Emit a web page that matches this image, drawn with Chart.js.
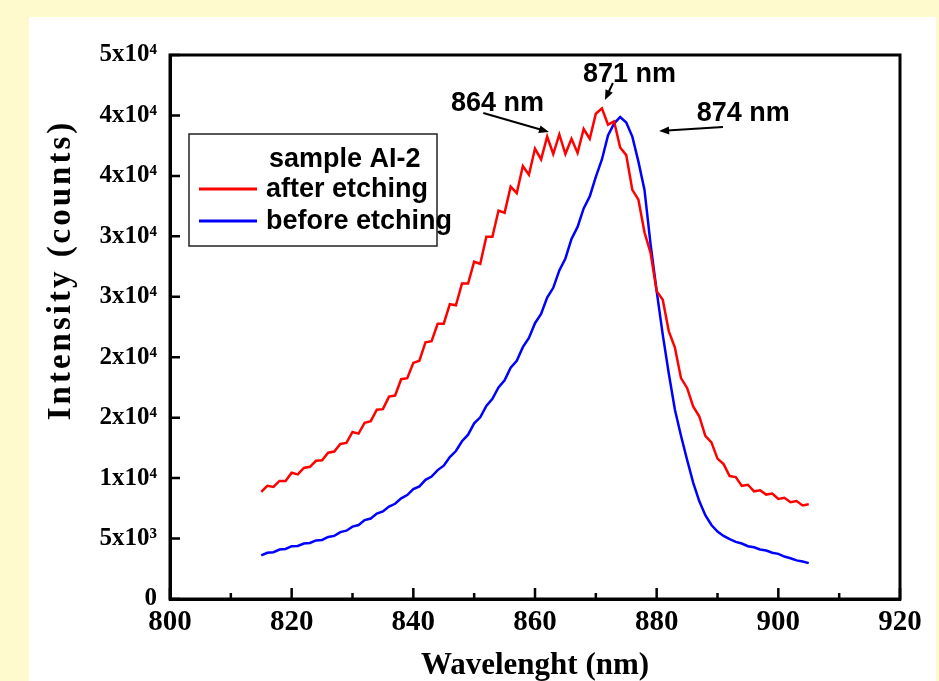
<!DOCTYPE html>
<html>
<head>
<meta charset="utf-8">
<script src="https://cdn.jsdelivr.net/npm/chart.js@4.4.0/dist/chart.umd.min.js"></script>
<style>
  html, body { margin: 0; padding: 0; background: #FFFACD; }
  body { width: 939px; height: 681px; position: relative; overflow: hidden; }
  #hoja { position: absolute; left: 29px; top: 17px; width: 907px; height: 664px; background: #fff; }
  #grafico { position: absolute; left: 0; top: 0; }
</style>
</head>
<body>
<div id="hoja"></div>
<canvas id="grafico" width="939" height="681"></canvas>
<script>
// ───────────────────────── datos
const longitudes = [
  815, 816, 817, 818, 819, 820, 821, 822, 823, 824,
  825, 826, 827, 828, 829, 830, 831, 832, 833, 834,
  835, 836, 837, 838, 839, 840, 841, 842, 843, 844,
  845, 846, 847, 848, 849, 850, 851, 852, 853, 854,
  855, 856, 857, 858, 859, 860, 861, 862, 863, 864,
  865, 866, 867, 868, 869, 870, 871, 872, 873, 874,
  875, 876, 877, 878, 879, 880, 881, 882, 883, 884,
  885, 886, 887, 888, 889, 890, 891, 892, 893, 894,
  895, 896, 897, 898, 899, 900, 901, 902, 903, 904,
  905
];

// after etching (rojo)
const despues = [
  9850, 10400, 10300, 10850, 10850, 11600, 11450, 12050, 12150, 12700,
  12750, 13450, 13550, 14250, 14350, 15350, 15200, 16200, 16350, 17400,
  17450, 18600, 18700, 20200, 20300, 21700, 21900, 23600, 23700, 25300,
  25300, 27100, 27000, 29000, 29000, 31000, 30800, 33300, 33300, 35700,
  35500, 37900, 37300, 39800, 39000, 41400, 40400, 42500, 40900, 42700,
  40900, 42300, 41000, 43200, 42300, 44600, 45100, 43600, 43900, 41500,
  40800, 37600, 36700, 33700, 31800, 28300, 27500, 24600, 23100, 20300,
  19400, 17700, 16800, 15000, 14400, 12900, 12400, 11300, 11200, 10400,
  10500, 9900, 10000, 9600, 9700, 9200, 9300, 8900, 9000, 8600,
  8700
];

// before etching (azul)
const antes = [
  4000, 4250, 4300, 4550, 4600, 4850, 4880, 5100, 5150, 5380,
  5430, 5700, 5800, 6150, 6280, 6650, 6800, 7250, 7400, 7850,
  8050, 8500, 8750, 9250, 9550, 10100, 10350, 10950, 11250, 11850,
  12250, 13050, 13600, 14500, 15100, 16150, 16700, 17750, 18400, 19450,
  20100, 21250, 21900, 23150, 24000, 25350, 26200, 27700, 28600, 30200,
  31300, 33100, 34200, 35900, 37000, 38800, 40400, 42600, 43700, 44300,
  43800, 42500, 40200, 37600, 32600, 28300, 24300, 20700, 17400, 15000,
  12800, 10700, 9000, 7700, 6800, 6200, 5800, 5500, 5250, 5100,
  4850, 4750, 4550, 4450, 4250, 4150, 3900, 3750, 3550, 3450,
  3300
];

// ejes
const xTicks      = [800, 820, 840, 860, 880, 900, 920];
const xTicksMenor = [810, 830, 850, 870, 890, 910];
const yTicks      = [0, 5556, 11111, 16667, 22222, 27778, 33333, 38889, 44444, 50000];
const yEtiquetas  = ['0', '5x10³', '1x10⁴', '2x10⁴', '2x10⁴', '3x10⁴', '3x10⁴', '4x10⁴', '4x10⁴', '5x10⁴'];

// anotaciones de picos (coordenadas en nm / cuentas)
const notas = [
  { texto: '864 nm', en: [846.2, 44850], desde: [851.5, 44670], hasta: [862.3, 42920] },
  { texto: '871 nm', en: [867.9, 47520], desde: [872.8, 47430], hasta: [871.5, 45860] },
  { texto: '874 nm', en: [886.6, 43930], desde: [890.9, 43380], hasta: [880.4, 43010] }
];

const SERIF = '"Liberation Serif", "Times New Roman", serif';
const SANS  = '"Liberation Sans", Arial, sans-serif';

// ───────────────────────── plugin: caja, ticks hacia dentro, título Y, leyenda y notas
const extras = {
  id: 'extras',
  afterDraw (chart) {
    const { ctx, chartArea: a, scales: { x, y } } = chart;
    ctx.save();

    // marco completo
    ctx.strokeStyle = '#000';
    ctx.lineWidth = 3;
    ctx.strokeRect(a.left, a.top, a.right - a.left, a.bottom - a.top);

    // ticks hacia dentro
    ctx.lineWidth = 2.5;
    ctx.beginPath();
    xTicks.forEach(v => { const px = x.getPixelForValue(v); ctx.moveTo(px, a.bottom); ctx.lineTo(px, a.bottom - 11); });
    xTicksMenor.forEach(v => { const px = x.getPixelForValue(v); ctx.moveTo(px, a.bottom); ctx.lineTo(px, a.bottom - 6); });
    yTicks.forEach(v => { const py = y.getPixelForValue(v); ctx.moveTo(a.left, py); ctx.lineTo(a.left + 10, py); });
    ctx.stroke();

    // título del eje Y
    ctx.save();
    ctx.translate(61, (a.top + a.bottom) / 2 - 57);
    ctx.rotate(-Math.PI / 2);
    ctx.fillStyle = '#000';
    ctx.font = `bold 33px ${SERIF}`;
    ctx.letterSpacing = '3px';
    ctx.textAlign = 'center';
    ctx.textBaseline = 'middle';
    ctx.fillText('Intensity (counts)', 0, 0);
    ctx.restore();

    // leyenda
    const lx = a.left + 19, ly = a.top + 79;
    ctx.lineWidth = 1.5;
    ctx.strokeStyle = '#222';
    ctx.strokeRect(lx, ly, 248, 112);
    ctx.fillStyle = '#000';
    ctx.font = `bold 27px ${SANS}`;
    ctx.textAlign = 'left';
    ctx.textBaseline = 'alphabetic';
    ctx.fillText('sample AI-2', lx + 80, ly + 33);
    chart.data.datasets.forEach((ds, i) => {
      const yy = ly + 55 + i * 32;
      ctx.strokeStyle = ds.borderColor;
      ctx.lineWidth = 3;
      ctx.beginPath();
      ctx.moveTo(lx + 10, yy);
      ctx.lineTo(lx + 68, yy);
      ctx.stroke();
      ctx.fillText(ds.label, lx + 77, yy + 8);
    });

    // notas con flecha
    ctx.strokeStyle = '#000';
    ctx.fillStyle = '#000';
    ctx.font = `bold 27px ${SANS}`;
    notas.forEach(n => {
      ctx.fillText(n.texto, x.getPixelForValue(n.en[0]), y.getPixelForValue(n.en[1]));
      const x0 = x.getPixelForValue(n.desde[0]), y0 = y.getPixelForValue(n.desde[1]);
      const x1 = x.getPixelForValue(n.hasta[0]), y1 = y.getPixelForValue(n.hasta[1]);
      const ang = Math.atan2(y1 - y0, x1 - x0);
      ctx.lineWidth = 2;
      ctx.beginPath();
      ctx.moveTo(x0, y0);
      ctx.lineTo(x1 - 8 * Math.cos(ang), y1 - 8 * Math.sin(ang));
      ctx.stroke();
      ctx.beginPath();
      ctx.moveTo(x1, y1);
      ctx.lineTo(x1 - 10 * Math.cos(ang) + 4 * Math.sin(ang), y1 - 10 * Math.sin(ang) - 4 * Math.cos(ang));
      ctx.lineTo(x1 - 10 * Math.cos(ang) - 4 * Math.sin(ang), y1 - 10 * Math.sin(ang) + 4 * Math.cos(ang));
      ctx.closePath();
      ctx.fill();
    });

    ctx.restore();
  }
};

// ───────────────────────── gráfica
Chart.defaults.color = '#000';
const ctx = document.getElementById('grafico').getContext('2d');
const chart = new Chart(ctx, {
  type: 'line',
  data: {
    datasets: [
      {
        label: 'after etching',
        data: longitudes.map((x, i) => ({ x, y: despues[i] })),
        borderColor: '#ff0000',
        borderWidth: 2.5,
        pointRadius: 0,
        tension: 0
      },
      {
        label: 'before etching',
        data: longitudes.map((x, i) => ({ x, y: antes[i] })),
        borderColor: '#0000ff',
        borderWidth: 2.5,
        pointRadius: 0,
        tension: 0
      }
    ]
  },
  options: {
    responsive: false,
    animation: false,
    layout: { padding: { left: 0, right: 39, top: 55, bottom: 0 } },
    plugins: { legend: { display: false }, tooltip: { enabled: false } },
    scales: {
      x: {
        type: 'linear',
        min: 800,
        max: 920,
        afterBuildTicks: s => { s.ticks = xTicks.map(v => ({ value: v })); },
        afterFit: s => { s.height = 82; },
        grid: { display: false, drawTicks: false },
        border: { display: true, color: '#000', width: 3 },
        ticks: {
          padding: 6,
          maxRotation: 0,
          autoSkip: false,
          font: { family: SERIF, weight: 'bold', size: 29 }
        },
        title: {
          display: true,
          text: 'Wavelenght (nm)',
          padding: { top: 0, bottom: 0 },
          font: { family: SERIF, weight: 'bold', size: 31, lineHeight: 1.0 }
        }
      },
      y: {
        type: 'linear',
        min: 0,
        max: 50000,
        afterBuildTicks: s => { s.ticks = yTicks.map(v => ({ value: v })); },
        afterFit: s => { s.width = 170; },
        grid: { display: false, drawTicks: false },
        border: { display: true, color: '#000', width: 3 },
        ticks: {
          padding: 13,
          autoSkip: false,
          callback: (v, i) => yEtiquetas[i],
          font: { family: SERIF, weight: 'bold', size: 25 }
        }
      }
    }
  },
  plugins: [extras]
});
</script>
</body>
</html>
